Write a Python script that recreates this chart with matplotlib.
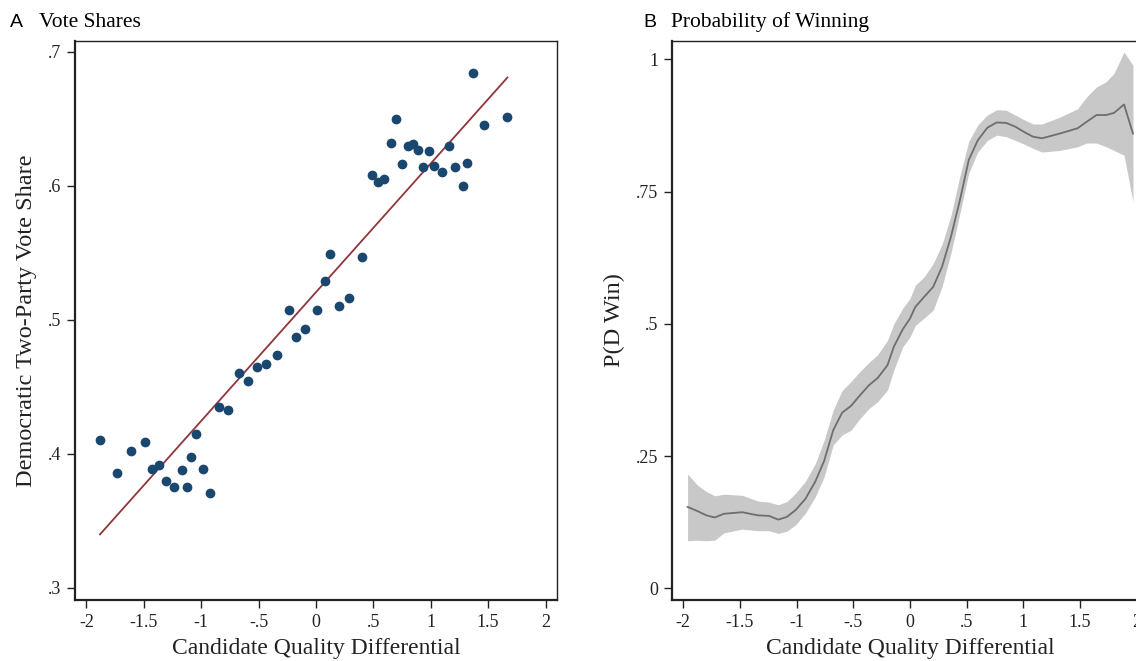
import numpy as np
import matplotlib
matplotlib.use("Agg")
import matplotlib.pyplot as plt

# panel A: binned vote shares
quality_bins = [-1.882, -1.732, -1.608, -1.493, -1.431, -1.365, -1.309, -1.237, -1.166, -1.126,
                -1.091, -1.044, -0.985, -0.926, -0.845, -0.770, -0.674, -0.593, -0.515, -0.437,
                -0.338, -0.238, -0.176, -0.094, 0.005, 0.077, 0.124, 0.204, 0.289, 0.401,
                0.486, 0.542, 0.597, 0.657, 0.701, 0.746, 0.804, 0.849, 0.889, 0.933,
                0.983, 1.032, 1.098, 1.157, 1.214, 1.285, 1.319, 1.364, 1.468, 1.668]
vote_share = [0.410, 0.386, 0.402, 0.409, 0.389, 0.392, 0.380, 0.375, 0.388, 0.375,
              0.398, 0.415, 0.389, 0.371, 0.435, 0.433, 0.460, 0.454, 0.465, 0.467,
              0.474, 0.507, 0.487, 0.493, 0.507, 0.529, 0.549, 0.510, 0.516, 0.547,
              0.608, 0.603, 0.605, 0.632, 0.650, 0.616, 0.630, 0.631, 0.627, 0.614,
              0.626, 0.615, 0.610, 0.630, 0.614, 0.600, 0.617, 0.684, 0.645, 0.651]
fit_intercept = 0.5206
fit_slope = 0.096

# panel B: probability of winning with band
grid = [-1.962, -1.874, -1.795, -1.723, -1.641, -1.481, -1.339, -1.244, -1.162, -1.087,
        -1.009, -0.923, -0.835, -0.757, -0.677, -0.599, -0.520, -0.441, -0.362, -0.284,
        -0.198, -0.142, -0.063, 0.000, 0.047, 0.125, 0.205, 0.283, 0.362, 0.441,
        0.519, 0.598, 0.683, 0.765, 0.850, 0.929, 1.007, 1.086, 1.165, 1.323,
        1.480, 1.558, 1.646, 1.732, 1.801, 1.889, 1.968]
p_win = [0.154, 0.146, 0.138, 0.134, 0.141, 0.144, 0.138, 0.137, 0.130, 0.135,
         0.148, 0.169, 0.202, 0.241, 0.299, 0.332, 0.345, 0.365, 0.384, 0.398,
         0.422, 0.457, 0.490, 0.510, 0.532, 0.551, 0.570, 0.608, 0.665, 0.734,
         0.810, 0.847, 0.871, 0.881, 0.880, 0.873, 0.863, 0.854, 0.851, 0.860,
         0.870, 0.882, 0.895, 0.895, 0.899, 0.915, 0.860]
p_low = [0.090, 0.091, 0.090, 0.091, 0.105, 0.112, 0.109, 0.109, 0.104, 0.108,
         0.120, 0.142, 0.173, 0.211, 0.271, 0.290, 0.299, 0.321, 0.340, 0.353,
         0.375, 0.413, 0.457, 0.475, 0.497, 0.511, 0.526, 0.570, 0.634, 0.709,
         0.785, 0.825, 0.847, 0.857, 0.854, 0.847, 0.840, 0.832, 0.825, 0.828,
         0.835, 0.842, 0.842, 0.835, 0.828, 0.819, 0.731]
p_high = [0.216, 0.195, 0.183, 0.175, 0.178, 0.176, 0.165, 0.163, 0.158, 0.164,
          0.180, 0.202, 0.236, 0.280, 0.337, 0.374, 0.391, 0.410, 0.427, 0.442,
          0.469, 0.500, 0.530, 0.548, 0.573, 0.589, 0.614, 0.650, 0.705, 0.780,
          0.845, 0.876, 0.895, 0.905, 0.904, 0.895, 0.886, 0.878, 0.878, 0.891,
          0.907, 0.929, 0.948, 0.958, 0.974, 1.014, 0.989]

x_ticks = [-2, -1.5, -1, -0.5, 0, 0.5, 1, 1.5, 2]
x_tick_labels = ["-2", "-1.5", "-1", "-.5", "0", ".5", "1", "1.5", "2"]
a_y_ticks = [0.3, 0.4, 0.5, 0.6, 0.7]
a_y_tick_labels = [".3", ".4", ".5", ".6", ".7"]
b_y_ticks = [0, 0.25, 0.5, 0.75, 1]
b_y_tick_labels = ["0", ".25", ".5", ".75", "1"]

plt.rcParams['font.family'] = ['Liberation Serif', 'DejaVu Serif']

fig = plt.figure(figsize=(11.36, 6.61), dpi=100)
axA = fig.add_axes([0.066, 0.0923, 0.4243, 0.8457])
axB = fig.add_axes([0.5915, 0.0923, 0.419, 0.8457])


def style_axis(ax):
    for name, s in ax.spines.items():
        s.set_color("#222222")
        s.set_linewidth(1.6 if name in ("left", "bottom") else 1.0)
    ax.tick_params(direction="out", length=6, width=1, labelsize=13, colors="#222222", pad=4)
    ax.set_xticks(x_ticks)
    ax.set_xticklabels(x_tick_labels)
    ax.set_xlim(-2.1, 2.1)
    ax.set_xlabel("Candidate Quality Differential", fontsize=17, color="#222222", labelpad=5)


# A
xs = np.array(quality_bins)
line_x = np.array([xs.min(), xs.max()])
axA.plot(line_x, fit_intercept + fit_slope * line_x, color="#90353b", lw=1.3, zorder=2)
axA.plot(quality_bins, vote_share, "o", color="#1a476f", markersize=6, zorder=3)
style_axis(axA)
axA.set_ylim(0.291, 0.708)
axA.set_yticks(a_y_ticks)
axA.set_yticklabels(a_y_tick_labels)
axA.set_ylabel("Democratic Two-Party Vote Share", fontsize=17.5, color="#222222", labelpad=8)

# B
axB.fill_between(grid, p_low, p_high, color="#c8c8c8", lw=0, zorder=1)
axB.plot(grid, p_win, color="#6e6e6e", lw=1.3, zorder=2)
style_axis(axB)
axB.set_ylim(-0.022, 1.035)
axB.set_yticks(b_y_ticks)
axB.set_yticklabels(b_y_tick_labels)
axB.set_ylabel("P(D Win)", fontsize=17.5, color="#222222", labelpad=8)

# panel headings
fig.text(0.009, 0.966, "A", fontsize=14, family=['Liberation Sans'], va="center", ha="left")
fig.text(0.034, 0.966, "Vote Shares", fontsize=15.5, va="center", ha="left")
fig.text(0.566, 0.966, "B", fontsize=14, family=['Liberation Sans'], va="center", ha="left")
fig.text(0.591, 0.966, "Probability of Winning", fontsize=15.5, va="center", ha="left")

fig.savefig("out.png", dpi=100)
